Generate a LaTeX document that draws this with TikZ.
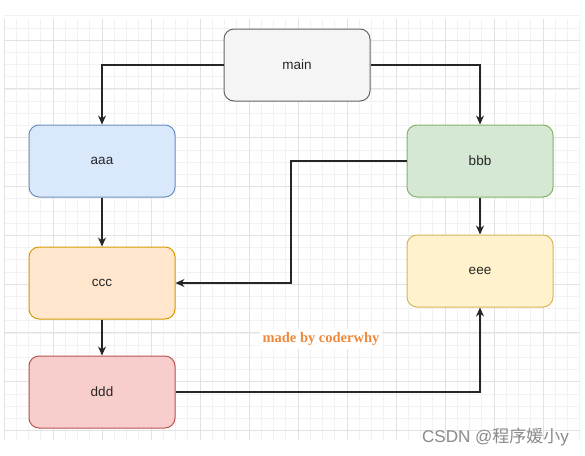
\documentclass[tikz,border=0pt]{standalone}
\usepackage{fontspec}
\setmainfont{Liberation Sans}
\newfontfamily\serifb{Liberation Serif}
\newfontfamily\cjk{Noto Sans CJK SC}
\usetikzlibrary{arrows.meta}
\definecolor{gmaj}{HTML}{E2E2E2}
\definecolor{gmin}{HTML}{F2F2F2}
\definecolor{mainF}{HTML}{F5F5F5}\definecolor{mainD}{HTML}{666666}
\definecolor{aF}{HTML}{DAE8FC}\definecolor{aD}{HTML}{6C8EBF}
\definecolor{bF}{HTML}{D5E8D4}\definecolor{bD}{HTML}{82B366}
\definecolor{cF}{HTML}{FFE6CC}\definecolor{cD}{HTML}{D79B00}
\definecolor{dF}{HTML}{F8CECC}\definecolor{dD}{HTML}{B85450}
\definecolor{eF}{HTML}{FFF2CC}\definecolor{eD}{HTML}{D6B656}
\definecolor{orangeT}{HTML}{F0883A}
\definecolor{wm}{HTML}{8A8A8A}
\begin{document}
\begin{tikzpicture}[x=1pt,y=-1pt,
  box/.style={draw,rounded corners=10pt,minimum width=146pt,minimum height=72pt,line width=1pt,
    font=\fontsize{13.5}{15}\selectfont,text=black!85,inner sep=0pt},
  conn/.style={line width=1.3pt,black!85,-{Stealth[length=9pt,width=8pt]}}]
\useasboundingbox (0,0) rectangle (585,455);
\fill[white] (0,0) rectangle (585,455);
% minor grid
\foreach \i in {0,...,47} {\draw[gmin,line width=0.6pt] ({4+12.25*\i},19) -- ({4+12.25*\i},440);}
\foreach \j in {0,...,34} {\draw[gmin,line width=0.6pt] (4,{40+12.2*\j-12.2*2}) -- (580,{40+12.2*\j-12.2*2});}
% major grid
\foreach \i in {0,...,11} {\draw[gmaj,line width=0.7pt] ({4+49*\i},19) -- ({4+49*\i},440);}
\foreach \j in {0,...,8} {\draw[gmaj,line width=0.7pt] (4,{40+48.8*\j}) -- (580,{40+48.8*\j});}
% boxes
\node[box,fill=mainF,draw=mainD] (main) at (297,65) {main};
\node[box,fill=aF,draw=aD] (aaa) at (102,161) {aaa};
\node[box,fill=bF,draw=bD] (bbb) at (480,161) {bbb};
\node[box,fill=cF,draw=cD] (ccc) at (102,283) {ccc};
\node[box,fill=eF,draw=eD] (eee) at (480,271) {eee};
\node[box,fill=dF,draw=dD] (ddd) at (102,392) {ddd};
% connectors
\draw[conn] (main.west) -| (aaa.north);
\draw[conn] (main.east) -| (bbb.north);
\draw[conn] (aaa.south) -- (ccc.north);
\draw[conn] (ccc.south) -- (ddd.north);
\draw[conn] (bbb.south) -- (eee.north);
\coordinate (k1) at (291,161);
\coordinate (k2) at (291,283);
\draw[conn] (bbb.west) -- (k1) -- (k2) -- (ccc.east);
\draw[conn] (ddd.east) -| (eee.south);
% texts
\node[font=\serifb\bfseries\fontsize{14.5}{16}\selectfont,text=orangeT,fill=white,inner sep=3pt] (made) at (321,339) {made by coderwhy};
\node[font=\fontsize{17}{19}\selectfont,text=wm,anchor=east,inner sep=0pt] (csdn) at (569,437) {CSDN @{\cjk 程序媛小}y};
\end{tikzpicture}
\end{document}
